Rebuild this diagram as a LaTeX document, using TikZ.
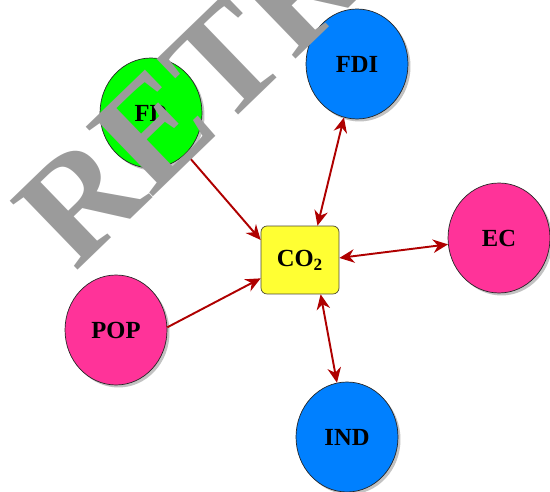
\documentclass[tikz,border=0pt]{standalone}
\usepackage{fontspec}
\setmainfont{Liberation Serif}
\usepackage{xcolor}
\usetikzlibrary{arrows.meta, shapes.geometric, shadows}

\definecolor{fdgreen}{RGB}{0,255,0}
\definecolor{fdiblue}{RGB}{0,128,255}
\definecolor{ecpink}{RGB}{255,51,153}
\definecolor{coyellow}{RGB}{255,255,51}
\definecolor{linkred}{RGB}{175,0,0}
\definecolor{stampgray}{RGB}{155,155,155}

\begin{document}
\begin{tikzpicture}[
  x=0.02cm, y=-0.02cm,
  every node/.style={font=\fontsize{14}{16}\selectfont\bfseries},
  factor/.style={draw=black!85, ellipse, minimum width=2.04cm, minimum height=2.2cm,
                 drop shadow={shadow xshift=0.05cm, shadow yshift=-0.05cm,
                              fill=black!40, opacity=0.6}},
  co2box/.style={draw=black!60!olive, fill=coyellow, rounded corners=0.12cm,
                 minimum width=1.56cm, minimum height=1.36cm},
  link/.style={-{Stealth[length=3mm, width=2.7mm]}, draw=linkred, line width=1.1pt},
  twoway/.style={link, {Stealth[length=3mm, width=2.7mm]}-{Stealth[length=3mm, width=2.7mm]}},
  stamp/.style={anchor=base west, rotate=44, inner sep=0pt, text=stampgray,
                font=\fontsize{84}{86}\selectfont\bfseries},
]
\useasboundingbox (0,0) rectangle (550,492);

% CO2 in the middle
\node[co2box] (co2) at (300,260) {CO\textsubscript{2}};

% Factors
\node[factor, fill=fdgreen] (fd) at (151,113) {FD};
\node[factor, fill=fdiblue] (fdi) at (357,64) {FDI};
\node[factor, fill=ecpink] (ec) at (499,238) {EC};
\node[factor, fill=ecpink] (pop) at (116,330) {POP};
\node[factor, fill=fdiblue] (ind) at (347,437) {IND};

% Arrows
\draw[link] (fd) -- (co2.153);
\draw[link] (pop.3) -- (co2.205);
\draw[twoway] (fdi) -- (co2.63);
\draw[twoway] (ec) -- (co2.3);
\draw[twoway] (ind) -- (co2.301);

% Watermark
\begin{scope}
  \clip (0,0) rectangle (550,492);
  \node[stamp] (mark) at (75,273) {RETRACTED};
\end{scope}

\end{tikzpicture}
\end{document}
